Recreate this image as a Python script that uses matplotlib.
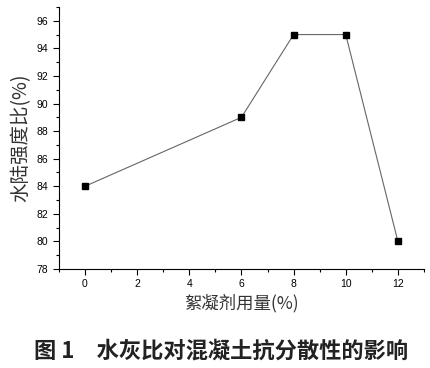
import matplotlib
matplotlib.use('Agg')
import matplotlib.pyplot as plt
from matplotlib.ticker import MultipleLocator

plt.rcParams['font.family'] = ['Liberation Sans', 'Noto Sans CJK SC', 'DejaVu Sans']

# 絮凝剂用量 (%) 与 水陆强度比 (%)
dosage = [0, 6, 8, 10, 12]
strength_ratio = [84, 89, 95, 95, 80]

xticks = [0, 2, 4, 6, 8, 10, 12]
yticks = [78, 80, 82, 84, 86, 88, 90, 92, 94, 96]

fig = plt.figure(figsize=(4.3, 3.68), dpi=100)
ax = fig.add_axes([0.137, 0.269, 0.849, 0.712])

ax.plot(dosage, strength_ratio, color='#666666', linewidth=0.8,
        marker='s', markersize=3.8, markerfacecolor='black', markeredgecolor='black')

ax.set_xlim(-1, 13)
ax.set_ylim(78, 97)
ax.set_xticks(xticks)
ax.set_yticks(yticks)
ax.xaxis.set_minor_locator(MultipleLocator(1))
ax.yaxis.set_minor_locator(MultipleLocator(1))
ax.tick_params(which='major', direction='out', length=4, width=0.8, labelsize=7.5)
ax.tick_params(which='minor', direction='out', length=2.5, width=0.8)
ax.spines['top'].set_visible(False)
ax.spines['right'].set_visible(False)

cjk = ['Noto Sans CJK SC', 'DejaVu Sans']
ax.set_xlabel('絮凝剂用量(%)', family=cjk, fontsize=12.5, color='#333333', labelpad=3)
ax.set_ylabel('水陆强度比(%)', family=cjk, fontsize=14, color='#333333', labelpad=4)

fig.text(0.515, 0.045, '图 1　水灰比对混凝土抗分散性的影响', family=cjk,
         fontsize=16, fontweight='bold', ha='center', va='center', color='#222222')

fig.savefig('out.png', dpi=100)
